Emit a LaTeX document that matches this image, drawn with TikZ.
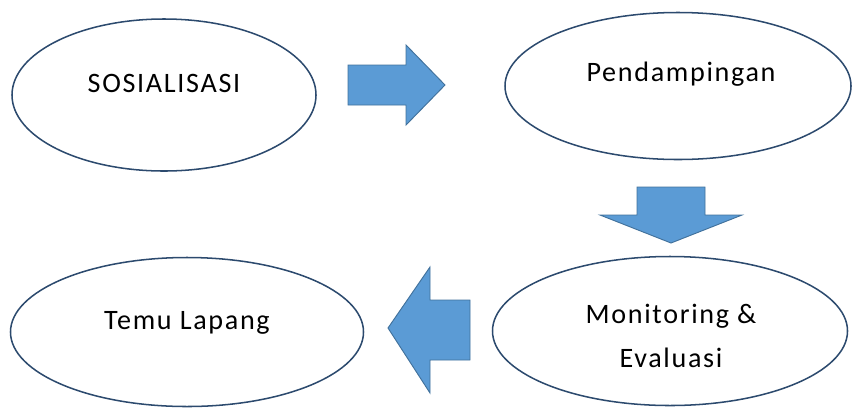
\documentclass[tikz,border=0pt]{standalone}
\usepackage{fontspec}
\setmainfont{Carlito}[LetterSpace=6]
\usetikzlibrary{shapes.geometric}
\definecolor{ringblue}{HTML}{2C4A6E}
\definecolor{arrowfill}{HTML}{5B9BD5}
\definecolor{arrowline}{HTML}{41719C}
\tikzset{
  stage/.style={
    ellipse, draw=ringblue, line width=1.3pt, fill=white, inner sep=0pt
  },
  stage text/.style={
    inner sep=0pt, align=center, font=\fontsize{24}{37}\selectfont
  },
  block arrow/.style={
    fill=arrowfill, draw=arrowline, line width=0.8pt, line join=miter
  }
}

\begin{document}
\begin{tikzpicture}[x=0.03cm, y=-0.03cm]
  \useasboundingbox (0,0) rectangle (853,408);

% ------------------------------------------------
% four stages
% ------------------------------------------------
  \node[stage, minimum width=9.12cm,  minimum height=4.56cm] (sos) at (164, 95) {};
  \node[stage, minimum width=10.38cm, minimum height=4.41cm] (pdm) at (678, 86) {};
  \node[stage, minimum width=10.65cm, minimum height=4.47cm] (mon) at (670,331) {};
  \node[stage, minimum width=10.59cm, minimum height=4.47cm] (tml) at (187,332) {};

  \node[stage text] (sosT) at (164, 83) {SOSIALISASI};
  \node[stage text] (pdmT) at (681, 74) {Pendampingan};
  \node[stage text] (monT) at (671,336) {Monitoring \&\\Evaluasi};
  \node[stage text] (tmlT) at (187,323) {Temu Lapang};

% ------------------------------------------------
% block arrows between the stages
% ------------------------------------------------
  \draw[block arrow] (348,65) -- (406,65) -- (406,45) -- (445,85)
    -- (406,125) -- (406,105) -- (348,105) -- cycle;
  \draw[block arrow] (637,187) -- (705,187) -- (705,215) -- (742,215)
    -- (671,243) -- (600,215) -- (637,215) -- cycle;
  \draw[block arrow] (470,300) -- (430,300) -- (430,267) -- (388,328)
    -- (430,393) -- (430,360) -- (470,360) -- cycle;
\end{tikzpicture}
\end{document}
